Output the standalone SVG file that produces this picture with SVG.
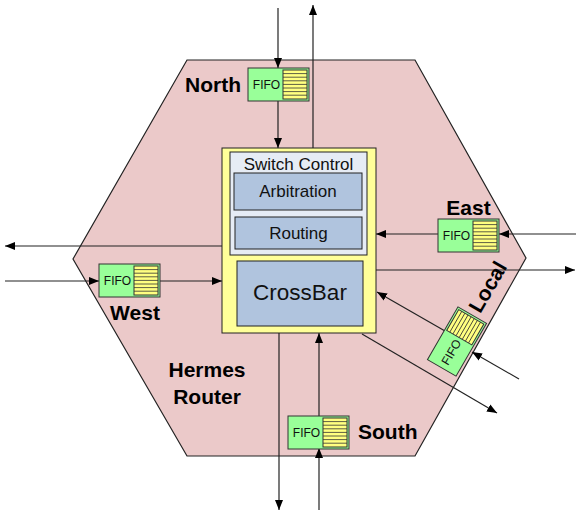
<svg xmlns="http://www.w3.org/2000/svg" xmlns:xlink="http://www.w3.org/1999/xlink" width="576" height="513" viewBox="0 0 576 513">
<style>
.lbl{font-family:"Liberation Sans",Arial,sans-serif;font-weight:bold;font-size:21px;fill:#000}
.txt{font-family:"Liberation Sans",Arial,sans-serif;font-size:17px;fill:#111;text-anchor:middle}
.fifo-t{font-family:"Liberation Sans",Arial,sans-serif;font-size:12px;fill:#111;text-anchor:middle}
.conn{stroke:#222;stroke-width:1.2;fill:none;marker-end:url(#ah)}
.box{fill:#b0c4de;stroke:#222;stroke-width:1}
</style>
<defs>
<marker id="ah" viewBox="0 0 10 10" refX="10" refY="5" markerWidth="10" markerHeight="10" markerUnits="userSpaceOnUse" orient="auto">
<path d="M0,1 L10,5 L0,9 z" fill="#000"/>
</marker>
<g id="fifo-shape">
<rect x="0" y="0" width="61" height="33" fill="#99ff99" stroke="#333" stroke-width="1"/>
<rect x="35" y="2" width="24" height="29" fill="#ffff80" stroke="#333" stroke-width="1"/>
<path d="M35,5.6H59M35,9.2H59M35,12.8H59M35,16.4H59M35,20H59M35,23.6H59M35,27.2H59" stroke="#333" stroke-width="0.8"/>
</g>
</defs>

<g id="router">
<polygon points="187,60 415,60 526,258 415,456 187,456 73,259" fill="#ebc9c9" stroke="#222" stroke-width="1.2"/>
<text class="lbl" x="207" y="377" text-anchor="middle">Hermes</text>
<text class="lbl" x="207" y="404" text-anchor="middle">Router</text>
</g>

<g id="connectors">
<line class="conn" x1="278" y1="8" x2="278" y2="68"/>
<line class="conn" x1="278" y1="101" x2="278" y2="148"/>
<line class="conn" x1="313" y1="148" x2="313" y2="5"/>
<line class="conn" x1="576" y1="234" x2="499" y2="234"/>
<line class="conn" x1="438" y1="234" x2="376" y2="234"/>
<line class="conn" x1="376" y1="270" x2="575" y2="270"/>
<line class="conn" x1="222" y1="246" x2="5" y2="246"/>
<line class="conn" x1="5" y1="281" x2="99" y2="281"/>
<line class="conn" x1="160" y1="281" x2="222" y2="281"/>
<line class="conn" x1="319" y1="510" x2="319" y2="448"/>
<line class="conn" x1="319" y1="417" x2="319" y2="333"/>
<line class="conn" x1="279" y1="333" x2="279" y2="510"/>
<line class="conn" x1="519" y1="379" x2="472" y2="352"/>
<line class="conn" x1="445" y1="331" x2="377" y2="292"/>
<line class="conn" x1="362" y1="334" x2="497" y2="413"/>
</g>

<g id="switch">
<rect x="222" y="148" width="154" height="185" fill="#ffff99" stroke="#222" stroke-width="1"/>
<rect x="230" y="152" width="137" height="103" fill="#e6ecf5" stroke="#222" stroke-width="1"/>
<text class="txt" x="298.5" y="170">Switch Control</text>
</g>
<g id="arbitration">
<rect class="box" x="234" y="173" width="128" height="37"/>
<text class="txt" x="298" y="197">Arbitration</text>
</g>
<g id="routing">
<rect class="box" x="235" y="217" width="127" height="32"/>
<text class="txt" x="298.5" y="239">Routing</text>
</g>
<g id="crossbar">
<rect class="box" x="237" y="261" width="126" height="65"/>
<text class="txt" x="300" y="300" style="font-size:22.5px">CrossBar</text>
</g>

<g id="north">
<use href="#fifo-shape" x="248" y="68"/>
<text class="fifo-t" x="266.5" y="89">FIFO</text>
<text class="lbl" x="185" y="92">North</text>
</g>
<g id="east">
<use href="#fifo-shape" x="438" y="219"/>
<text class="fifo-t" x="456.5" y="240">FIFO</text>
<text class="lbl" x="468.5" y="215" text-anchor="middle">East</text>
</g>
<g id="west">
<use href="#fifo-shape" x="99" y="264"/>
<text class="fifo-t" x="117.5" y="285">FIFO</text>
<text class="lbl" x="135" y="320" text-anchor="middle">West</text>
</g>
<g id="south">
<use href="#fifo-shape" x="288" y="416"/>
<text class="fifo-t" x="306.5" y="437">FIFO</text>
<text class="lbl" x="358" y="439">South</text>
</g>
<g id="local">
<g transform="translate(457,341.5) rotate(-60) translate(-30.5,-16.5)">
<use href="#fifo-shape"/>
<text class="fifo-t" x="18.5" y="21">FIFO</text>
</g>
<text class="lbl" transform="translate(488,287) rotate(-60)" x="0" y="7" text-anchor="middle">Local</text>
</g>
</svg>
